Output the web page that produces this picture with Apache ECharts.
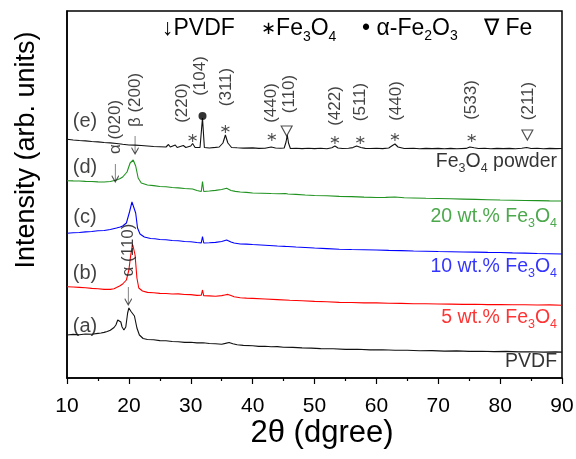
<!DOCTYPE html>
<html><head><meta charset="utf-8">
<script src="https://cdn.jsdelivr.net/npm/echarts@6/dist/echarts.min.js"></script>
<style>html,body{margin:0;padding:0;background:#fff}#c{width:576px;height:459px}</style>
</head><body><div id="c"></div>
<script>
const FONT = '"Liberation Sans", Arial, Helvetica, sans-serif';

// x axis (2theta, degree)
const xMin = 10, xMax = 90, xStep = 10;

// traces: [2theta, intensity (arb. units)]
const tracePVDF = [[10,43],[11,43.6],[12,43.2],[13,44],[14,43.8],[15,44.6],[15.5,45],[16,45.6],[16.5,46.5],[17,47.8],[17.3,49],[17.6,50.5],[17.9,53],[18.2,58],[18.45,60],[18.7,56],[18.9,51],[19.2,48],[19.5,51],[19.8,65],[20.0,70],[20.2,68],[20.35,66.5],[20.6,68],[20.9,62],[21.1,56],[21.3,50],[21.7,43],[22.3,39.5],[23,38.5],[24,38.2],[25,37.4],[26,37.2],[27,36.5],[28,36.2],[29,35.6],[30,35.7],[31,35.1],[32,35.3],[33,34.5],[34,34.2],[35,33.8],[35.6,34.6],[36.2,35.5],[36.8,34.2],[37.5,33.2],[38.5,32.6],[40,32.3],[41,31.6],[42,31.7],[43,31.2],[44,31.4],[45,30.8],[46.5,30.6],[48,30.1],[49.5,29.9],[51,29.4],[53,29.2],[55,28.6],[57,28.7],[59,28.1],[61,28.2],[63,27.7],[65,27.8],[67,27.3],[69,27.4],[71,26.9],[73,27.1],[75,26.6],[77,26.8],[79,26.4],[81,26.6],[83,26.1],[85,26.3],[87,25.9],[89,26.1],[90,25.9]];
const trace5wt = [[10,91.3],[11,91],[12,90.6],[13,90.2],[14,89.6],[15,89.2],[16,88.6],[17,88.6],[17.6,89.2],[18,90.4],[18.5,92],[19,94],[19.6,98],[20.0,108],[20.3,123],[20.6,134],[20.8,135],[21.0,123],[21.3,100],[21.6,90],[22.2,87],[23,85.6],[24,85.2],[25,84.6],[26,84.5],[27,84],[28,84.1],[29,83.5],[30,83.4],[31,82.6],[31.7,82.7],[31.9,88],[32.1,82.2],[33,82.1],[34,81.7],[35,82.4],[35.5,83],[36,83.6],[36.5,82.4],[37,81.2],[38,80.3],[39,79.9],[40,79.6],[42,79],[44,78.4],[46,77.7],[48,77.2],[50,76.6],[52,76.2],[54,75.6],[56,75.5],[58,75.1],[60,75.1],[62,74.7],[64,74.6],[66,74.3],[68,74.3],[70,74],[72,73.9],[74,73.6],[76,73.7],[78,73.4],[80,73.5],[82,73.2],[84,73.3],[86,73],[88,73.1],[90,72.8]];
const trace10wt = [[10,144.7],[11,145.2],[12,145.5],[13,146.1],[14,146.5],[15,147.2],[16,147.5],[17,148.5],[18,150],[18.6,151],[19,152],[19.6,155],[20.1,166],[20.5,176],[20.8,178],[21.1,165],[21.4,150],[21.8,144],[22.5,141],[23.5,139.5],[24.2,139.2],[25,138.5],[26,138.3],[27,137.5],[28,137.3],[29,136.5],[30,136.2],[31,135.5],[31.7,135.1],[31.9,141.5],[32.1,135],[33,135.2],[34,135.6],[35,136.5],[35.8,138],[36.5,136],[37,135],[38,134],[39,133.9],[40,133.5],[42,132.8],[44,132],[45.3,131.6],[45.5,133],[45.7,131.5],[47,131],[48.5,130.5],[50,130],[52,129.4],[54,128.8],[56,128.5],[58,128.3],[60,128],[62,127.6],[64,127.4],[66,127],[68,126.8],[70,126.5],[72,126.3],[74,126],[76,125.9],[78,125.6],[80,125.5],[82,125.1],[84,124.9],[86,124.5],[88,124.3],[90,124]];
const trace20wt = [[10,197.3],[11,197.1],[12,197],[13,196.6],[14,196.5],[15,196.1],[16,196],[17,196.5],[18,198],[18.6,199.5],[19,201],[19.7,206],[20.2,215],[20.7,218],[21.1,212],[21.5,200],[22,195],[23,193],[24,192.4],[25,191.5],[26,191.2],[27,190.5],[28,190.1],[29,189.5],[30.3,189],[31,187.5],[31.7,186.5],[31.9,196.5],[32.1,186.5],[33,187],[34,187.6],[35,188.5],[35.8,189.7],[36.5,187.5],[37.2,186.6],[38,186],[39,185.6],[40,185],[41.5,184.8],[43,184.5],[44.2,184.3],[45.3,184.5],[45.5,186.5],[45.7,184],[47,183.6],[48.5,183],[50,182.5],[52,182.2],[54,181.6],[56,181.4],[58,180.9],[60,180.5],[61.5,180.6],[63,181],[64.5,180.2],[66,180],[68,179.7],[70,179.5],[72,179.2],[74,178.9],[76,178.6],[78,178.3],[80,178],[82,177.8],[84,177.5],[86,177.4],[88,177.1],[90,177]];
const traceFe3O4 = [[10,238.7],[11,238],[12,237.5],[13,237.1],[14,236.5],[15,236.1],[16,235.5],[17,235.1],[18,234.5],[19,233.7],[20,233],[21,232.9],[22,232.5],[23,232],[24,231.5],[25,231.3],[26,231],[26.4,233.5],[26.7,231],[27.5,233],[27.8,230.5],[28.8,232.5],[29.2,230.5],[30,232],[30.3,234.5],[30.7,230.5],[31.5,230.5],[31.8,253],[31.9,260],[32.0,250],[32.2,230.5],[33,230],[34,230.6],[34.6,231],[35.2,235],[35.6,243],[36.0,235],[36.6,230.5],[37.5,230.2],[38.5,229.9],[40,230.1],[41,229.6],[42,229.8],[43,231],[43.3,232],[43.7,230],[44.5,229.8],[45.1,230],[45.4,236],[45.6,243],[45.8,235],[46.1,229.5],[47,229.8],[48,229.4],[49,229.7],[50,229.4],[51,229.7],[52,229.3],[52.8,230.3],[53.3,232],[53.8,230],[54.5,229.5],[55.5,229.7],[56.2,230.4],[56.8,232],[57.1,233],[57.5,230.5],[58.2,229.6],[59,229.5],[60,229.8],[61,229.4],[62,230],[62.6,232.5],[63.0,234],[63.5,231],[64.5,229.5],[66,229.7],[67,229.3],[68,229.6],[69,229.4],[70,229.6],[71,229.3],[72,229.6],[73,229.3],[74.5,229.6],[75.1,231],[75.4,232],[75.8,230.2],[76.5,229.5],[77.5,229.7],[78.5,229.3],[79.5,229.6],[80.5,229.4],[81.5,229.6],[82.5,229.3],[83.5,229.7],[84.3,230.5],[85,229.5],[86,229.7],[87,229.3],[88,229.6],[89,229.4],[90,229.5]];

// annotations (data space: 2theta, intensity)
const hklLabels = [[17.8,251,'α (020)'],[21.0,278,'β (200)'],[28.7,275,'(220)'],[31.5,302,'(104)'],[35.8,291,'(311)'],[43.1,275,'(440)'],[46.0,284,'(110)'],[53.3,272,'(422)'],[57.4,276,'(511)'],[63.3,277,'(440)'],[75.4,278,'(533)'],[84.5,277,'(211)'],[19.9,128,'α (110)']];
const fe3o4Marks = [[30.3,240],[35.6,249],[43.1,241],[53.3,238],[57.4,238],[63.0,241],[75.4,240]];
const hematiteMarks = [[31.9,262]];
const feMarks = [[45.5,247],[84.4,243]];
const pvdfArrows = [[17.8,205],[21.0,233],[19.9,82]];
const traceTags = [[12.9,52,'(a)'],[12.9,105,'(b)'],[12.9,161,'(c)'],[12.9,211,'(d)'],[12.9,257,'(e)']];
const sampleNames = [[89.2,16,'PVDF'],[89.2,60,'5 wt.% {s|3}O{s|4}'],[89.2,111,'10 wt.% {s|3}O{s|4}'],[89.2,161,'20 wt.% {s|3}O{s|4}'],[89.2,216,'{s|3}O{s|4} powder']];
const sampleColors = ['#000000','#ff0000','#0000ff','#1f921f','#000000'];

const GREEN = '#1f921f';
function richFor(color, size, sub){
  return {
    n:{fontFamily:FONT,fontSize:size,color:color,lineHeight:size+6},
    s:{fontFamily:FONT,fontSize:sub,color:color,lineHeight:sub,verticalAlign:'bottom'}
  };
}
function sampleText(t){
  let s = t.replace('{s|3}O{s|4}', 'Fe{s|3}O{s|4}');
  const parts = s.split(/(\{s\|\d\})/);
  return parts.map(p => p.startsWith('{s|') ? p : (p ? '{n|' + p + '}' : '')).join('');
}

const chart = echarts.init(document.getElementById('c'), null, {renderer:'canvas'});

const lineSeries = (data, color) => ({
  type:'line', data:data, showSymbol:false, symbol:'none', silent:true,
  lineStyle:{color:color, width:1.1}, itemStyle:{color:color}, z:3
});

const option = {
  animation:false,
  backgroundColor:'#ffffff',
  textStyle:{fontFamily:FONT},
  grid:{left:67, right:14, top:11, bottom:81, show:true, borderColor:'#000', borderWidth:1.5, backgroundColor:'transparent', outerBoundsMode:'none', containLabel:false},
  xAxis:{
    type:'value', min:xMin, max:xMax, interval:xStep,
    axisLine:{show:true, lineStyle:{color:'#000', width:1.5}},
    axisTick:{show:true, inside:false, length:6, lineStyle:{color:'#000', width:1.2}},
    minorTick:{show:true, splitNumber:2, length:3, lineStyle:{color:'#000', width:1.2}},
    splitLine:{show:false},
    axisLabel:{show:true, color:'#000', fontSize:21, fontFamily:FONT, margin:18, showMinLabel:true, showMaxLabel:true, hideOverlap:false}
  },
  yAxis:{
    type:'value', min:0, max:367,
    axisLine:{show:true, lineStyle:{color:'#000', width:1.5}},
    axisTick:{show:false}, axisLabel:{show:false}, splitLine:{show:false}
  },
  graphic:[
    {type:'text', x:27, y:150, rotation:Math.PI/2,
      style:{text:'Intensity (arb. units)', font:'27px ' + FONT, fill:'#000', align:'center', verticalAlign:'middle'}},
    {type:'text', x:322, y:433, style:{text:'2θ (dgree)', font:'31px ' + FONT, fill:'#000', align:'center', verticalAlign:'middle'}},
    {type:'text', x:162, y:29, style:{text:'↓PVDF', font:'23px ' + FONT, fill:'#000', verticalAlign:'middle'}},
    {type:'text', x:261, y:29, style:{text:'{a|∗}{n|Fe}{s|3}{n|O}{s|4}', verticalAlign:'middle',
      rich:Object.assign({a:{fontFamily:'DejaVu Sans', fontSize:18, color:'#000', lineHeight:30}}, richFor('#000',23,14))}},
    {type:'text', x:362, y:29, style:{text:'{n|• α-Fe}{s|2}{n|O}{s|3}', verticalAlign:'middle', rich:richFor('#000',23,14)}},
    {type:'text', x:484, y:29, style:{text:'∇ Fe', font:'23px ' + FONT, fill:'#000', verticalAlign:'middle'}}
  ],
  series:[
    lineSeries(traceFe3O4, '#111111'),
    lineSeries(trace20wt, GREEN),
    lineSeries(trace10wt, '#0000ff'),
    lineSeries(trace5wt, '#ff0000'),
    lineSeries(tracePVDF, '#111111'),
    {type:'scatter', silent:true, symbolSize:0, z:5,
      data:hklLabels.map(d => ({value:[d[0], d[1]], txt:d[2]})),
      label:{show:true, position:'inside', rotate:90, formatter:p => p.data.txt, fontSize:17, fontFamily:FONT, color:'#111'}},
    {type:'scatter', silent:true, symbol:'path://M5 0L5 10M0.67 2.5L9.33 7.5M0.67 7.5L9.33 2.5', symbolSize:8, z:5,
      data:fe3o4Marks, itemStyle:{color:'none', borderColor:'#222', borderWidth:1.1}},
    {type:'scatter', silent:true, symbol:'circle', symbolSize:8, z:5,
      data:hematiteMarks, itemStyle:{color:'#000'}},
    {type:'scatter', silent:true, symbol:'path://M0 0L10 0L5 9Z', symbolSize:[11,10], z:5,
      data:feMarks, itemStyle:{color:'none', borderColor:'#222', borderWidth:1.1}},
    {type:'scatter', silent:true, symbol:'path://M5 0L5 20M1 13L5 20L9 13', symbolSize:[7,18], z:5,
      data:pvdfArrows, itemStyle:{color:'none', borderColor:'#222', borderWidth:1.1}},
    {type:'scatter', silent:true, symbolSize:0, z:5,
      data:traceTags.map(d => ({value:[d[0], d[1]], txt:d[2]})),
      label:{show:true, position:'inside', formatter:p => p.data.txt, fontSize:20, fontFamily:FONT, color:'#111'}},
    {type:'scatter', silent:true, symbolSize:0, z:5,
      data:sampleNames.map((d, i) => ({value:[d[0], d[1]],
        label:{show:true, position:'left', distance:0, formatter:sampleText(d[2]), rich:richFor(sampleColors[i], 19.5, 12.5)}})),
      label:{show:true}}
  ]
};
chart.setOption(option);
</script></body></html>
